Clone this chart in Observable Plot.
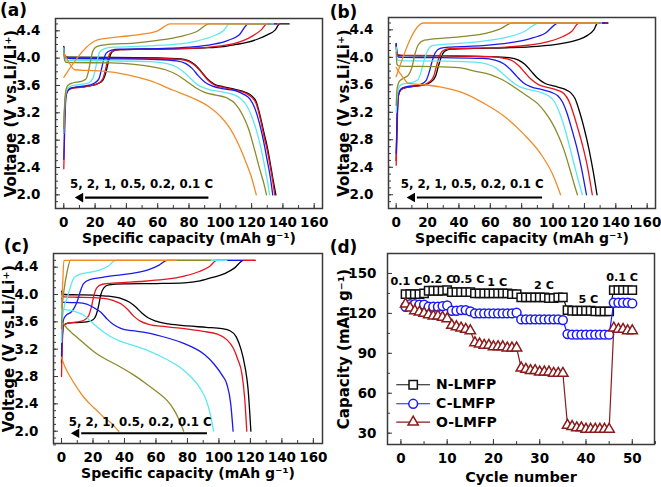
<!DOCTYPE html>
<html><head><meta charset="utf-8">
<script src="https://cdn.jsdelivr.net/npm/d3@7"></script>
<script src="https://cdn.jsdelivr.net/npm/@observablehq/plot@0.6"></script>
<style>
body{margin:0;background:#fff}
#wrap{position:relative;width:661px;height:487px;overflow:hidden;background:#fff}
.panel{position:absolute}
</style>
</head><body><div id="wrap"></div>
<script>
// ---------- shared ----------
const rateNames = ["0.1 C", "0.2 C", "0.5 C", "1 C", "2 C", "5 C"];
const rateColors = ["#000000", "#e8141c", "#1a1aeb", "#5ce8f0", "#8a8a2c", "#f08c28"];
const capTicks = [0, 20, 40, 60, 80, 100, 120, 140, 160];
const voltTicks = [2.0, 2.4, 2.8, 3.2, 3.6, 4.0, 4.4];
const arrowText = "5, 2, 1, 0.5, 0.2, 0.1 C";
const xTitle = "Specific capacity (mAh g\u207B\u00B9)";
const yTitle = "Voltage (V vs.Li/Li\u207A)";

// ---------- panel (a) N-LMFP ----------
const aCharge = [
  [[0,2.9],[0.6,3.3],[1.5,3.48],[3,3.54],[6,3.565],[12,3.58],[18,3.6],[22,3.63],[25,3.68],[27,3.8],[28.5,3.95],[30,4.06],[32,4.11],[36,4.125],[50,4.13],[70,4.135],[90,4.15],[102,4.17],[110,4.2],[117,4.23],[124,4.28],[130,4.34],[135,4.41],[138,4.5],[144,4.5]],
  [[0,2.38],[0.6,3.0],[1.5,3.45],[3,3.53],[6,3.56],[12,3.575],[18,3.6],[22,3.63],[25,3.7],[26.5,3.82],[28,3.97],[29.5,4.07],[32,4.11],[36,4.125],[50,4.13],[70,4.14],[90,4.155],[100,4.18],[108,4.21],[115,4.26],[121,4.33],[126,4.41],[130,4.5],[138,4.5]],
  [[0,2.52],[0.6,3.1],[1.5,3.47],[3,3.54],[6,3.57],[12,3.59],[17,3.61],[20,3.64],[22.5,3.7],[24,3.83],[25.5,3.98],[27,4.07],[30,4.115],[36,4.13],[60,4.14],[80,4.16],[95,4.2],[105,4.26],[112,4.34],[118,4.5],[136,4.5]],
  [[0,2.9],[0.6,3.3],[1.5,3.5],[3,3.57],[6,3.6],[12,3.62],[16,3.64],[18.5,3.7],[20,3.82],[21.5,3.98],[23,4.09],[26,4.14],[32,4.16],[50,4.175],[70,4.2],[85,4.25],[95,4.32],[102,4.4],[106,4.5],[134,4.5]],
  [[0,2.97],[0.6,3.35],[1.5,3.55],[3,3.61],[6,3.64],[11,3.66],[14,3.69],[15.5,3.78],[17,3.95],[18.5,4.1],[21,4.17],[28,4.2],[45,4.22],[60,4.26],[75,4.32],[85,4.39],[93,4.5],[132,4.5]],
  [[0,3.72],[22,4.27],[35,4.31],[50,4.35],[60,4.4],[68,4.5],[130,4.5]]
];
const aDischarge = [
  [[0,4.17],[0.5,4.05],[1.5,4.02],[5,4.015],[30,4.01],[60,4.005],[75,3.99],[80,3.96],[84,3.9],[88,3.8],[92,3.69],[96,3.62],[102,3.58],[110,3.54],[116,3.5],[120,3.45],[123,3.36],[125.5,3.15],[128,2.9],[130,2.7],[132,2.45],[133.5,2.25],[135.5,2.0]],
  [[0,4.15],[0.5,4.03],[1.5,4.01],[5,4.005],[30,4.0],[60,3.995],[75,3.98],[80,3.95],[84,3.89],[88,3.79],[92,3.68],[96,3.61],[102,3.57],[110,3.53],[116,3.49],[120,3.43],[123,3.33],[125.5,3.12],[128,2.85],[130,2.65],[132,2.4],[133.5,2.2],[134.8,2.0]],
  [[0,4.16],[0.5,4.02],[1.5,4.0],[5,3.995],[30,3.99],[60,3.98],[72,3.96],[78,3.92],[82,3.85],[86,3.74],[90,3.65],[95,3.59],[102,3.55],[110,3.52],[115,3.47],[119,3.4],[122,3.27],[125,3.05],[127.5,2.8],[130,2.5],[132,2.25],[133.5,2.0]],
  [[0,4.15],[0.5,4.0],[1.5,3.97],[5,3.965],[30,3.96],[55,3.95],[66,3.92],[72,3.87],[77,3.79],[82,3.68],[87,3.59],[93,3.54],[100,3.51],[108,3.47],[113,3.41],[117,3.3],[120,3.15],[123,2.95],[126,2.68],[128.5,2.4],[130.5,2.15],[131.5,2.0]],
  [[0,4.1],[0.5,3.97],[1.5,3.94],[5,3.935],[30,3.93],[45,3.91],[55,3.88],[65,3.83],[72,3.76],[78,3.67],[84,3.57],[90,3.5],[97,3.46],[104,3.42],[110,3.32],[114,3.18],[118,2.97],[122,2.65],[125.5,2.35],[128,2.15],[129.5,2.0]],
  [[0,4.08],[3,3.95],[7,3.83],[15,3.82],[25,3.81],[40,3.76],[55,3.67],[70,3.53],[82,3.42],[92,3.3],[100,3.15],[106,2.98],[111,2.77],[116,2.5],[120,2.25],[123,2.0]]
];

// ---------- panel (b) C-LMFP ----------
const bCharge = [
  [[0,2.5],[0.6,3.1],[1.5,3.45],[3,3.53],[6,3.56],[12,3.58],[18,3.6],[22,3.64],[25,3.72],[27,3.88],[29,4.02],[31,4.09],[35,4.12],[50,4.13],[70,4.14],[90,4.16],[105,4.2],[115,4.25],[122,4.32],[126,4.4],[128.5,4.5],[135,4.5]],
  [[0,2.43],[0.6,3.0],[1.5,3.45],[3,3.53],[6,3.56],[12,3.58],[18,3.6],[21,3.64],[24,3.73],[26,3.9],[28,4.04],[30,4.1],[34,4.125],[50,4.135],[70,4.15],[85,4.18],[97,4.23],[106,4.3],[112,4.38],[116.5,4.5],[134,4.5]],
  [[0,2.6],[0.6,3.15],[1.5,3.47],[3,3.54],[6,3.57],[12,3.59],[16,3.61],[19,3.66],[21,3.78],[23,3.95],[25,4.07],[28,4.13],[35,4.15],[55,4.17],[72,4.21],[85,4.27],[95,4.35],[103.5,4.5],[133,4.5]],
  [[0,3.2],[0.6,3.4],[1.5,3.55],[3,3.6],[6,3.62],[11,3.64],[14,3.68],[16,3.8],[18,3.97],[20,4.1],[23,4.17],[30,4.19],[45,4.21],[60,4.25],[72,4.3],[82,4.38],[91,4.5],[131,4.5]],
  [[0,3.3],[0.6,3.55],[2,3.65],[5,3.7],[8,3.75],[10,3.85],[12,4.05],[14,4.18],[18,4.25],[30,4.28],[45,4.31],[57,4.35],[66,4.41],[74,4.5],[130,4.5]],
  [[0,3.72],[17.6,4.5],[129,4.5]]
];
const bDischarge = [
  [[0,4.2],[0.5,4.06],[1.5,4.03],[5,4.025],[30,4.02],[60,4.01],[72,3.995],[78,3.96],[82,3.9],[86,3.8],[90,3.7],[95,3.62],[101,3.58],[107,3.54],[111,3.49],[114,3.4],[117,3.2],[120,2.95],[123,2.65],[125.5,2.35],[128,2.0]],
  [[0,4.18],[0.5,4.05],[1.5,4.035],[5,4.03],[30,4.025],[60,4.01],[68,3.99],[74,3.95],[78,3.88],[82,3.78],[86,3.68],[91,3.6],[97,3.56],[103,3.52],[107,3.47],[110,3.37],[113,3.18],[116,2.95],[119,2.7],[122,2.4],[125,2.0]],
  [[0,4.2],[0.5,4.03],[1.5,4.005],[5,4.0],[30,3.995],[55,3.985],[63,3.96],[69,3.9],[73,3.82],[77,3.72],[81,3.63],[86,3.57],[93,3.53],[99,3.49],[103,3.44],[106,3.35],[109,3.18],[112,2.95],[115,2.7],[118,2.4],[121.3,2.0]],
  [[0,4.15],[0.5,3.98],[1.5,3.955],[5,3.95],[30,3.945],[50,3.93],[58,3.9],[64,3.84],[69,3.74],[73,3.66],[78,3.58],[85,3.53],[92,3.49],[97,3.44],[101,3.35],[104,3.2],[107,3.0],[110,2.75],[113,2.48],[116,2.22],[118.6,2.0]],
  [[0,4.08],[0.5,3.9],[1.5,3.875],[5,3.87],[25,3.865],[40,3.85],[50,3.8],[60,3.75],[68,3.67],[77,3.54],[84,3.43],[90,3.33],[95,3.2],[99,3.06],[103,2.88],[107,2.65],[111,2.35],[113.5,2.15],[115.5,2.0]],
  [[0,3.85],[4,3.72],[8,3.62],[18,3.6],[28,3.57],[43,3.48],[56,3.33],[69,3.14],[81,2.89],[92,2.6],[100.5,2.26],[104.8,2.0]]
];

// ---------- panel (c) O-LMFP ----------
const cCharge = [
  [[0,3.0],[0.5,3.4],[1.5,3.55],[4,3.58],[10,3.59],[16,3.6],[20,3.63],[22,3.7],[23.5,3.83],[25,4.0],[27,4.1],[30,4.14],[40,4.155],[60,4.16],[78,4.17],[88,4.2],[96,4.25],[104,4.31],[110,4.39],[115.6,4.5],[123,4.5]],
  [[0,2.8],[0.5,3.3],[1.5,3.55],[4,3.58],[10,3.6],[14,3.62],[17,3.68],[19,3.82],[20.5,3.98],[22.5,4.1],[26,4.15],[35,4.17],[50,4.19],[65,4.22],[78,4.27],[88,4.34],[94,4.41],[98.7,4.5],[123,4.5]],
  [[0,3.1],[0.5,3.5],[1.5,3.65],[3.6,3.71],[6,3.74],[8,3.8],[10,3.9],[12,4.05],[14,4.16],[18.4,4.22],[26,4.25],[35,4.28],[45,4.31],[55,4.36],[62,4.43],[67,4.5],[115,4.5]],
  [[0,3.3],[0.5,3.6],[1.5,3.8],[3.6,3.95],[5.5,4.1],[7.8,4.24],[11,4.29],[16.3,4.32],[24.7,4.36],[30,4.42],[34.2,4.5],[105,4.5]],
  [[0,3.5],[0.4,3.8],[1.5,4.05],[3.6,4.34],[5.7,4.5],[94.5,4.5]],
  [[0,3.8],[0.8,4.2],[1.5,4.5],[73,4.5]]
];
const cDischarge = [
  [[0,4.05],[0.5,4.01],[2,4.0],[10,3.995],[20,3.99],[30,3.975],[38,3.94],[43,3.89],[47,3.82],[51,3.73],[55,3.66],[60,3.61],[68,3.57],[80,3.54],[92,3.52],[102,3.5],[107,3.47],[111,3.38],[114,3.2],[116.5,2.95],[118.5,2.62],[119.5,2.3],[120.3,2.0]],
  [[0,4.02],[0.5,3.975],[2,3.965],[10,3.96],[20,3.955],[28,3.94],[33,3.91],[38,3.86],[42,3.78],[46,3.68],[50,3.61],[56,3.56],[66,3.53],[78,3.5],[90,3.46],[99,3.42],[105,3.34],[109,3.22],[112,3.05],[114.6,2.84],[116.3,2.5],[117.7,2.0]],
  [[0,3.95],[0.5,3.89],[3,3.885],[10,3.88],[16,3.86],[21,3.8],[25,3.74],[29,3.64],[33,3.56],[38,3.5],[45,3.47],[52,3.45],[60,3.41],[68,3.36],[76,3.3],[84,3.22],[91,3.12],[97,2.98],[102,2.82],[105,2.69],[107.5,2.4],[109,2.0]],
  [[0,3.82],[0.5,3.79],[5,3.77],[10,3.74],[14,3.7],[19,3.6],[24,3.5],[30,3.4],[36,3.33],[45,3.26],[55,3.18],[66,3.06],[75,2.94],[82,2.8],[88,2.63],[92,2.45],[94.5,2.25],[96.6,2.0]],
  [[0,3.62],[2,3.55],[6,3.45],[10,3.37],[16,3.25],[22.6,3.13],[30,3.03],[37.4,2.94],[46,2.82],[54,2.69],[61,2.57],[67,2.45],[71,2.33],[74,2.2],[75.5,2.12],[77.6,2.0]],
  [[0,3.08],[2,2.95],[5.7,2.79],[10,2.63],[14,2.5],[18,2.4],[22.6,2.3],[27,2.2],[31,2.13],[34,2.06],[36.4,2.0]]
];

// arrow annotations: [from capacity, to capacity, voltage], text [capacity, voltage]
const aArrow = [92.4, 10.6, 1.96], aArrowLabel = [49.7, 2.16];
const bArrow = [93, 10.2, 1.96], bArrowLabel = [48.5, 2.16];
const cArrow = [92.4, 9.5, 1.97], cArrowLabel = [50, 2.13];

// ---------- panel (d) rate capability ----------
const cycles = d3.range(1, 51);
const nLMFP = [134.5,134.5,134.5,134.5,135, 137,137,137,137,137.5, 136,136,136,136,136, 135,135,135,135,135,135,135,135,134.5,134.5, 132,132,132,132,132,132,131.5,131.5,132,132, 122.5,122,122,122,122,122,121.5,121.5,121.5,121.5, 137.5,137.5,137.5,137.5,137.5];
const cLMFP = [125,127,127,126.5,126.5, 125,125,125,125.5,126, 122,122,122.5,122.5,121.5, 120,120,120,120,120,120,120,120,120,120.5, 115.5,115.5,115.5,115.5,115.5,115.5,115.5,115.5,115.5,115, 104.5,104,104,104,104,104,104,104,104,104, 128,128,128,128,127.5];
const oLMFP = [127,124,122,121,120,119,118,118,117,116, 111,110,109,108,107, 98,97,96,96,95,95,95,94,94,94, 79,78,77,77,76,76,76,75,75,75, 36,35,34,34,33,33,33,33,33,33, 109,108,108,107,107];
const seriesNames = ["N-LMFP", "C-LMFP", "O-LMFP"];
const seriesColors = ["#111111", "#1a1aff", "#8b1a1a"];
const seriesSymbols = ["square", "circle", "triangle"];
const rateLabels = ["0.1 C", "0.2 C", "0.5 C", "1 C", "2 C", "5 C", "0.1 C"];
const rateLabelCycle = [1.2, 8.1, 14.6, 20.8, 30.9, 40.5, 47.8];
const rateLabelCap = [143.7, 145.5, 145.5, 143.2, 141.2, 130.4, 147.4];
const legendSpan = [-1, 6.3], legendCap = [66.4, 52.1, 38.3];
const capTicksD = [30, 60, 90, 120, 150];
const cycleTicks = [0, 10, 20, 30, 40, 50];

// ---------- helpers ----------
const FONT = "DejaVu Sans";
const frameColor = "#3a3a3a";
function baseStyle() {
  return {fontFamily: FONT, fontWeight: "bold", fontSize: "13.5px", background: "transparent", overflow: "visible", color: "#000"};
}
function mount(svg, left, top) {
  const d = document.createElement("div");
  d.className = "panel"; d.style.left = left + "px"; d.style.top = top + "px";
  d.appendChild(svg);
  document.getElementById("wrap").appendChild(d);
}

function voltagePanel({charge, discharge, arrow, arrowLabel, label, left, top, width, height, margin, xDomain, yDomain, labelDx, labelDy}) {
  const marks = [];
  // ticks (inward)
  marks.push(Plot.axisX({ticks: d3.range(0, 161, 10), tickSize: -3, fill: "none", label: null, stroke: frameColor}));
  marks.push(Plot.axisX({ticks: capTicks, tickSize: -5, tickPadding: 14, label: null, stroke: frameColor, tickFormat: d3.format("d")}));
  marks.push(Plot.axisY({ticks: d3.range(18, 46).map(d => d / 10), tickSize: -3, fill: "none", label: null, stroke: frameColor}));
  marks.push(Plot.axisY({ticks: voltTicks, tickSize: -5, tickPadding: 20, label: null, stroke: frameColor, tickFormat: d3.format(".1f")}));
  // curves
  for (let i = 0; i < rateNames.length; i++) {
    marks.push(Plot.line(charge[i], {x: d => d[0], y: d => d[1], stroke: rateColors[i], strokeWidth: 1.3, curve: "monotone-x"}));
    marks.push(Plot.line(discharge[i], {x: d => d[0], y: d => d[1], stroke: rateColors[i], strokeWidth: 1.3, curve: "monotone-x"}));
  }
  // arrow
  marks.push(Plot.link([arrow], {x1: d => d[0], x2: d => d[1] + 3, y1: d => d[2], y2: d => d[2], stroke: "#000", strokeWidth: 2.2}));
  marks.push(Plot.dot([arrow], {x: d => d[1], y: d => d[2], symbol: "triangle", rotate: -90, r: 3.6, fill: "#000", stroke: "none"}));
  marks.push(Plot.text([arrowText], {x: arrowLabel[0], y: arrowLabel[1], text: d => d, fontSize: 11.8, fontWeight: "bold"}));
  // titles
  marks.push(Plot.text([xTitle], {frameAnchor: "bottom", dy: 30, text: d => d, fontSize: 14, textAnchor: "middle", lineAnchor: "middle"}));
  marks.push(Plot.text([yTitle], {frameAnchor: "left", dx: -44, rotate: -90, text: d => d, fontSize: 15, textAnchor: "middle", lineAnchor: "middle"}));
  marks.push(Plot.text([label], {frameAnchor: "top-left", dx: labelDx, dy: labelDy, text: d => d, fontSize: 17, textAnchor: "middle", lineAnchor: "middle"}));
  marks.push(Plot.frame({stroke: frameColor, strokeWidth: 1.5}));
  const svg = Plot.plot({
    width, height, ...margin,
    x: {domain: xDomain, axis: null},
    y: {domain: yDomain, axis: null},
    style: baseStyle(),
    marks
  });
  mount(svg, left, top);
}

voltagePanel({charge: aCharge, discharge: aDischarge, arrow: aArrow, arrowLabel: aArrowLabel, label: "(a)",
  left: 0, top: 0, width: 330, height: 250,
  margin: {marginTop: 18, marginRight: 8, marginBottom: 42, marginLeft: 55},
  xDomain: [-5.3, 165.3], yDomain: [1.8, 4.58], labelDx: -42, labelDy: -8});

voltagePanel({charge: bCharge, discharge: bDischarge, arrow: bArrow, arrowLabel: bArrowLabel, label: "(b)",
  left: 330, top: 0, width: 331, height: 250,
  margin: {marginTop: 17, marginRight: 6, marginBottom: 42, marginLeft: 58},
  xDomain: [-4.9, 165.3], yDomain: [1.8, 4.58], labelDx: -45, labelDy: -5});

voltagePanel({charge: cCharge, discharge: cDischarge, arrow: cArrow, arrowLabel: cArrowLabel, label: "(c)",
  left: 0, top: 240, width: 330, height: 247,
  margin: {marginTop: 13, marginRight: 8, marginBottom: 44, marginLeft: 53},
  xDomain: [-5.1, 165.8], yDomain: [1.82, 4.6], labelDx: -37, labelDy: -7});

// panel (d)
(function () {
  const series = [nLMFP, cLMFP, oLMFP];
  const rs = [4.7, 4.4, 3.8];
  const marks = [];
  marks.push(Plot.axisX({ticks: d3.range(0, 56, 5), tickSize: -3, fill: "none", label: null, stroke: frameColor}));
  marks.push(Plot.axisX({ticks: cycleTicks, tickSize: -5, tickPadding: 14, label: null, stroke: frameColor, tickFormat: d3.format("d")}));
  marks.push(Plot.axisY({ticks: d3.range(30, 166, 15), tickSize: -3, fill: "none", label: null, stroke: frameColor}));
  marks.push(Plot.axisY({ticks: capTicksD, tickSize: -5, tickPadding: 16, label: null, stroke: frameColor, tickFormat: d3.format("d")}));
  series.forEach((vals, i) => {
    const data = cycles.map((c, j) => ({c, v: vals[j]}));
    marks.push(Plot.line(data, {x: "c", y: "v", stroke: seriesColors[i], strokeWidth: 1.2}));
    marks.push(Plot.dot(data, {x: "c", y: "v", symbol: seriesSymbols[i], r: rs[i], stroke: seriesColors[i], fill: "white", strokeWidth: 1.5}));
  });
  // rate labels
  marks.push(Plot.text(rateLabels, {x: (d, i) => rateLabelCycle[i], y: (d, i) => rateLabelCap[i], text: d => d, fontSize: 11.2}));
  // legend
  seriesNames.forEach((name, i) => {
    marks.push(Plot.link([name], {x1: legendSpan[0], x2: legendSpan[1], y1: legendCap[i], y2: legendCap[i], stroke: seriesColors[i], strokeWidth: 1.2}));
    marks.push(Plot.dot([name], {x: (legendSpan[0] + legendSpan[1]) / 2, y: legendCap[i], symbol: seriesSymbols[i], r: rs[i], stroke: seriesColors[i], fill: "white", strokeWidth: 1.5}));
    marks.push(Plot.text([name], {x: legendSpan[1], y: legendCap[i], text: d => d, dx: 6, textAnchor: "start", fontSize: 14}));
  });
  marks.push(Plot.text(["Cycle number"], {frameAnchor: "bottom", dy: 33, text: d => d, fontSize: 14.5, textAnchor: "middle", lineAnchor: "middle"}));
  marks.push(Plot.text(["Capacity (mAh g\u207B\u00B9)"], {frameAnchor: "left", dx: -43, rotate: -90, text: d => d, fontSize: 15, textAnchor: "middle", lineAnchor: "middle"}));
  marks.push(Plot.text(["(d)"], {frameAnchor: "top-left", dx: -44, dy: -6, text: d => d, fontSize: 17, textAnchor: "middle", lineAnchor: "middle"}));
  marks.push(Plot.frame({stroke: frameColor, strokeWidth: 1.5}));
  const svg = Plot.plot({
    width: 331, height: 247,
    marginTop: 13, marginRight: 7, marginBottom: 43, marginLeft: 57,
    x: {domain: [-2.9, 54.8], axis: null},
    y: {domain: [21.5, 165], axis: null},
    style: baseStyle(),
    marks
  });
  mount(svg, 330, 240);
})();
</script>
</body></html>
